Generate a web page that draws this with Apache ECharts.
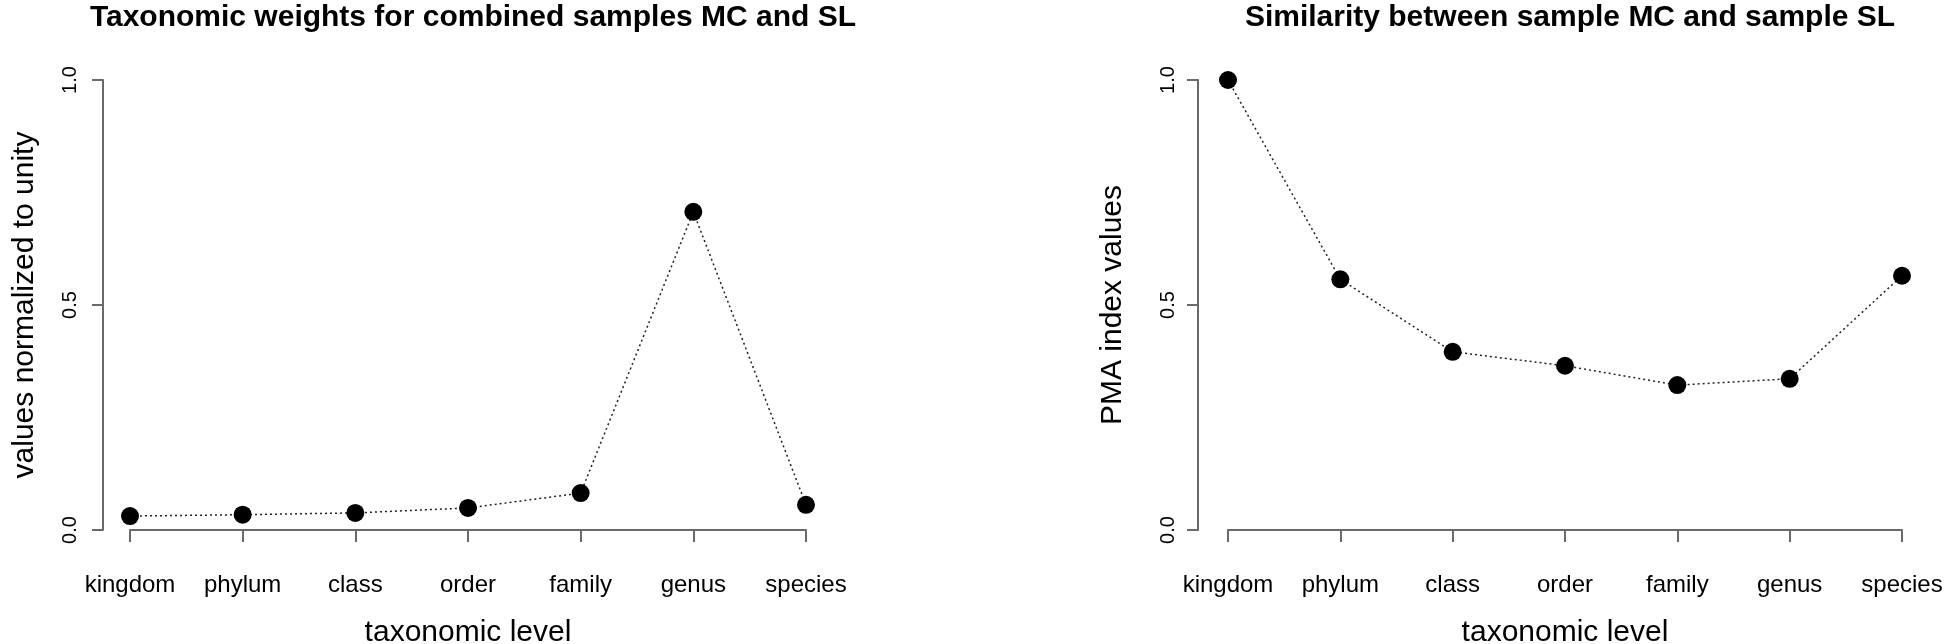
<!DOCTYPE html>
<html>
<head>
<meta charset="UTF-8">
<title>Taxonomic weights and PMA similarity</title>
<style>
  * { margin: 0; padding: 0; }
  body { background: #fff; }
  #chart { width: 1946px; height: 644px; }
</style>
<script src="https://cdn.jsdelivr.net/npm/echarts@6/dist/echarts.min.js"></script>
</head>
<body>
<div id="chart"></div>
<script>
// data
const levels = ['kingdom', 'phylum', 'class', 'order', 'family', 'genus', 'species'];
const weights = [0.031, 0.034, 0.038, 0.049, 0.082, 0.707, 0.056];
const pmaValues = [1.0, 0.557, 0.396, 0.365, 0.322, 0.336, 0.565];
const yTicks = [0, 0.5, 1];

const FONT = '"Liberation Sans", Arial, Helvetica, sans-serif';
const axisGray = '#6a6a6a';

function xAxisFor(gridIndex) {
  return {
    type: 'category',
    gridIndex: gridIndex,
    data: levels,
    boundaryGap: false,
    offset: 18,
    name: 'taxonomic level',
    nameLocation: 'middle',
    nameGap: 70,
    nameTextStyle: { fontFamily: FONT, fontSize: 30, color: '#000' },
    axisLine: { show: true, lineStyle: { color: axisGray, width: 2 } },
    axisTick: { show: true, length: 12, lineStyle: { color: axisGray, width: 2 } },
    axisLabel: { show: true, interval: 0, margin: 25, fontFamily: FONT, fontSize: 24, color: '#000' },
    splitLine: { show: false }
  };
}

// offset / gaps differ a little between the two panels in the reference
function yAxisFor(gridIndex, title, offset, nameGap, labelMargin) {
  return {
    type: 'value',
    gridIndex: gridIndex,
    min: yTicks[0],
    max: yTicks[yTicks.length - 1],
    interval: 0.5,
    offset: offset,
    name: title,
    nameLocation: 'middle',
    nameRotate: 90,
    nameGap: nameGap,
    nameTextStyle: { fontFamily: FONT, fontSize: 30, color: '#000' },
    axisLine: { show: true, lineStyle: { color: axisGray, width: 2 } },
    axisTick: { show: true, length: 11, lineStyle: { color: axisGray, width: 2 } },
    axisLabel: {
      show: true, rotate: 90, margin: labelMargin,
      fontFamily: FONT, fontSize: 20, color: '#000',
      formatter: v => v.toFixed(1)
    },
    splitLine: { show: false }
  };
}

function seriesFor(index, values) {
  return {
    type: 'line',
    xAxisIndex: index,
    yAxisIndex: index,
    data: values,
    clip: false,
    symbol: 'circle',
    symbolSize: 18,
    itemStyle: { color: '#000' },
    lineStyle: { color: '#222', width: 1.5, type: [2, 3] },
    emphasis: { disabled: true }
  };
}

const chart = echarts.init(document.getElementById('chart'), null, { renderer: 'canvas' });
chart.setOption({
  animation: false,
  backgroundColor: '#fff',
  title: [
    {
      text: 'Taxonomic weights for combined samples MC and SL',
      left: 468, top: -2, textAlign: 'center',
      textStyle: { fontFamily: FONT, fontSize: 30, fontWeight: 'bold', color: '#000' }
    },
    {
      text: 'Similarity between sample MC and sample SL',
      left: 1565, top: -2, textAlign: 'center',
      textStyle: { fontFamily: FONT, fontSize: 30, fontWeight: 'bold', color: '#000' }
    }
  ],
  // fixed plot boxes; no auto-shrinking to fit labels
  grid: [
    { left: 130, top: 80, width: 676, height: 450, containLabel: false, outerBoundsMode: 'none' },
    { left: 1228, top: 80, width: 674, height: 450, containLabel: false, outerBoundsMode: 'none' }
  ],
  xAxis: [xAxisFor(0), xAxisFor(1)],
  yAxis: [
    yAxisFor(0, 'values normalized to unity', 27, 63, 23),
    yAxisFor(1, 'PMA index values', 30, 70, 20)
  ],
  series: [seriesFor(0, weights), seriesFor(1, pmaValues)]
});
</script>
</body>
</html>
